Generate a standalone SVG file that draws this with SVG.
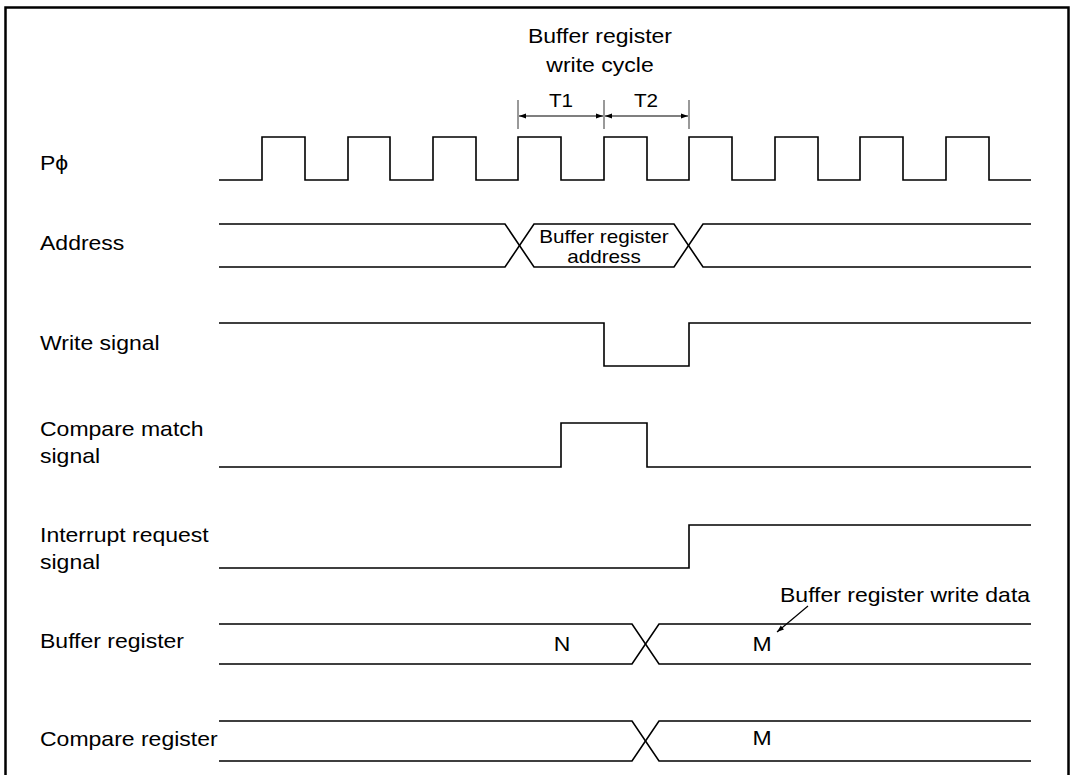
<svg xmlns="http://www.w3.org/2000/svg" width="1073" height="775" viewBox="0 0 1073 775">
<defs>
<style>
.w{fill:none;stroke:#000;stroke-width:1.6;stroke-linejoin:miter}
.t{font-family:"Liberation Sans",Arial,sans-serif;fill:#000}
.lab{font-size:20px}
.sm{font-size:18px}
.tk{stroke:#555;stroke-width:1.2}
.dim{stroke:#000;stroke-width:1.2}
</style>
<marker id="ah" viewBox="0 0 10 10" refX="10" refY="5" markerWidth="10" markerHeight="7" markerUnits="userSpaceOnUse" orient="auto-start-reverse">
<path d="M0,1.5 L10,5 L0,8.5 Z" fill="#000"/>
</marker>
</defs>
<rect x="0" y="0" width="1073" height="775" fill="#fff"/>
<rect x="5.5" y="7.5" width="1063" height="790" fill="none" stroke="#000" stroke-width="2.5"/>

<g id="labels">
<text class="t lab" transform="translate(40,170) scale(1.15,1)">Pϕ</text>
<text class="t lab" transform="translate(40,250) scale(1.15,1)">Address</text>
<text class="t lab" transform="translate(40,350) scale(1.15,1)">Write signal</text>
<text class="t lab" transform="translate(40,436) scale(1.15,1)">Compare match</text>
<text class="t lab" transform="translate(40,463) scale(1.15,1)">signal</text>
<text class="t lab" transform="translate(40,542) scale(1.15,1)">Interrupt request</text>
<text class="t lab" transform="translate(40,569) scale(1.15,1)">signal</text>
<text class="t lab" transform="translate(40,648) scale(1.15,1)">Buffer register</text>
<text class="t lab" transform="translate(40,746) scale(1.15,1)">Compare register</text>
</g>

<g id="cycle-label">
<text class="t lab" text-anchor="middle" transform="translate(600,43) scale(1.15,1)">Buffer register</text>
<text class="t lab" text-anchor="middle" transform="translate(600,72) scale(1.15,1)">write cycle</text>
<text class="t sm" text-anchor="middle" transform="translate(561,107) scale(1.15,1)">T1</text>
<text class="t sm" text-anchor="middle" transform="translate(646,107) scale(1.15,1)">T2</text>
</g>

<g id="connectors">
<line class="tk" x1="518" y1="100" x2="518" y2="129"/>
<line class="tk" x1="604" y1="100" x2="604" y2="129"/>
<line class="tk" x1="689" y1="100" x2="689" y2="129"/>
<line class="dim" x1="519" y1="116" x2="603" y2="116" marker-start="url(#ah)" marker-end="url(#ah)"/>
<line class="dim" x1="605" y1="116" x2="688" y2="116" marker-start="url(#ah)" marker-end="url(#ah)"/>
<line class="dim" x1="808" y1="606" x2="777" y2="632" marker-end="url(#ah)"/>
</g>

<g id="clock">
<path class="w" d="M219,180 H262 V137 H305 V180 H348 V137 H390 V180 H433 V137 H476 V180 H518 V137 H561 V180 H604 V137 H647 V180 H689 V137 H732 V180 H775 V137 H818 V180 H860 V137 H903 V180 H946 V137 H989 V180 H1031"/>
</g>

<g id="address">
<path class="w" d="M219,224 H505 L534,267 H674 L703,224 H1031"/>
<path class="w" d="M219,267 H505 L534,224 H674 L703,267 H1031"/>
<text class="t sm" text-anchor="middle" transform="translate(604,243) scale(1.15,1)">Buffer register</text>
<text class="t sm" text-anchor="middle" transform="translate(604,263) scale(1.15,1)">address</text>
</g>

<g id="write-signal">
<path class="w" d="M219,323 H604 V366 H689 V323 H1031"/>
</g>

<g id="compare-match">
<path class="w" d="M219,467 H561 V423 H647 V467 H1031"/>
</g>

<g id="interrupt-request">
<path class="w" d="M219,568 H689 V525 H1031"/>
</g>

<g id="buffer-register">
<path class="w" d="M219,624 H632 L659,664 H1031"/>
<path class="w" d="M219,664 H632 L659,624 H1031"/>
<text class="t lab" text-anchor="middle" transform="translate(562,651) scale(1.15,1)">N</text>
<text class="t lab" text-anchor="middle" transform="translate(762,651) scale(1.15,1)">M</text>
<text class="t lab" transform="translate(780,602) scale(1.15,1)">Buffer register write data</text>
</g>

<g id="compare-register">
<path class="w" d="M219,721 H632 L659,761 H1031"/>
<path class="w" d="M219,761 H632 L659,721 H1031"/>
<text class="t lab" text-anchor="middle" transform="translate(762,745) scale(1.15,1)">M</text>
</g>
</svg>
